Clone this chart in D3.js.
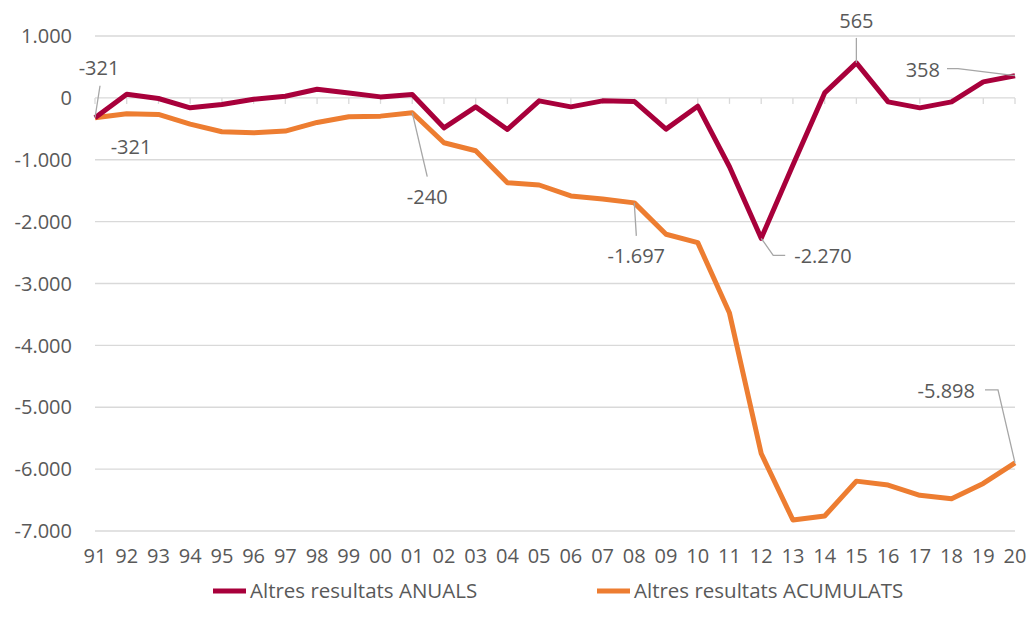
<!DOCTYPE html>
<html>
<head>
<meta charset="utf-8">
<script src="https://cdn.jsdelivr.net/npm/d3@7"></script>
<style>
  body { margin: 0; background: #fff; }
  text { font-family: "Open Sans", sans-serif; fill: #595959; }
</style>
</head>
<body>
<div class="line-chart"></div>
<script>
const years = ['91','92','93','94','95','96','97','98','99','00','01','02','03','04','05',
               '06','07','08','09','10','11','12','13','14','15','16','17','18','19','20']

const anuals = [-321, 60, -10, -161, -107, -21, 27, 140, 80, 16, 55, -484, -145, -510, -48,
                -145, -48, -58, -505, -134, -1113, -2270, -1085, 80, 565, -64, -161, -64, 258, 358]

const acumulats = [-321, -258, -268, -424, -548, -565, -537, -397, -306, -295, -240, -726, -855, -1371, -1408,
                   -1585, -1634, -1697, -2204, -2339, -3478, -5747, -6823, -6758, -6194, -6258, -6424, -6478, -6231, -5898]

const yTicks = [1000, 0, -1000, -2000, -3000, -4000, -5000, -6000, -7000]

const series = [
    {name: 'Altres resultats ANUALS', values: anuals, color: '#A8003B'},
    {name: 'Altres resultats ACUMULATS', values: acumulats, color: '#ED7D31'}
]

const width = 1029
const height = 629
const plot = {left: 95, right: 1015, top: 36, bottom: 531}

const locale = d3.formatLocale({decimal: ',', thousands: '.', grouping: [3], currency: ['', '€'], minus: '-'})
const fmt = locale.format(',d')

const svg = d3.select('.line-chart').append('svg')
    .attr('width', width)
    .attr('height', height)

const x = d3.scalePoint()
    .domain(years)
    .range([plot.left, plot.right])

const y = d3.scaleLinear()
    .domain([-7000, 1000])
    .range([plot.bottom, plot.top])

// gridlines
svg.append('g')
    .selectAll('line')
    .data(yTicks)
    .join('line')
        .attr('x1', plot.left)
        .attr('x2', plot.right)
        .attr('y1', d => y(d))
        .attr('y2', d => y(d))
        .attr('stroke', '#D9D9D9')
        .attr('stroke-width', 1.3)

// y labels
svg.append('g')
    .selectAll('text')
    .data(yTicks)
    .join('text')
        .attr('x', 72)
        .attr('y', d => y(d))
        .attr('dy', '0.36em')
        .attr('text-anchor', 'end')
        .style('font-size', '20px')
        .text(d => fmt(d))

// small tick marks on the zero line
svg.append('g')
    .selectAll('line')
    .data(years)
    .join('line')
        .attr('x1', d => x(d))
        .attr('x2', d => x(d))
        .attr('y1', y(0))
        .attr('y2', y(0) + 6)
        .attr('stroke', '#D9D9D9')
        .attr('stroke-width', 1.3)

// x labels
svg.append('g')
    .selectAll('text')
    .data(years)
    .join('text')
        .attr('x', d => x(d))
        .attr('y', 563)
        .attr('text-anchor', 'middle')
        .style('font-size', '20px')
        .text(d => d)

const line = d3.line()
    .x((d, i) => x(years[i]))
    .y(d => y(d))

svg.append('g')
    .selectAll('path')
    .data(series.slice().reverse())
    .join('path')
        .attr('d', d => line(d.values))
        .attr('fill', 'none')
        .attr('stroke', d => d.color)
        .attr('stroke-width', 5)
        .attr('stroke-linejoin', 'round')

// data labels with leader lines (offsets relative to the point)
const labels = [
    {s: anuals, i: 0, dx: 4, dy: -43, anchor: 'middle', leader: [[0, 0], [5, -32]]},
    {s: acumulats, i: 0, dx: 36, dy: 36, anchor: 'middle', leader: null},
    {s: acumulats, i: 10, dx: 15, dy: 91, anchor: 'middle', leader: [[0, 0], [15, 64]]},
    {s: acumulats, i: 17, dx: 2, dy: 60, anchor: 'middle', leader: [[0, 0], [2, 33]]},
    {s: anuals, i: 21, dx: 33, dy: 25, anchor: 'start', leader: [[0, 0], [12, 17], [24, 17]]},
    {s: anuals, i: 24, dx: 0, dy: -35, anchor: 'middle', leader: [[0, 0], [0, -25]]},
    {s: anuals, i: 29, dx: -75, dy: 1, anchor: 'end', leader: [[0, 0], [-57, -7], [-68, -7]]},
    {s: acumulats, i: 29, dx: -40, dy: -65, anchor: 'end', leader: [[0, 0], [-17, -73], [-30, -73]]}
]

const lab = svg.append('g')
labels.forEach(l => {
    const px = x(years[l.i])
    const py = y(l.s[l.i])
    if (l.leader) {
        lab.append('path')
            .attr('d', d3.line()(l.leader.map(p => [px + p[0], py + p[1]])))
            .attr('fill', 'none')
            .attr('stroke', '#A6A6A6')
            .attr('stroke-width', 1.3)
    }
    lab.append('text')
        .attr('x', px + l.dx)
        .attr('y', py + l.dy)
        .attr('text-anchor', l.anchor)
        .style('font-size', '20px')
        .text(fmt(l.s[l.i]))
})

// legend
const legendX = [213, 597]
const legend = svg.append('g')
    .selectAll('g')
    .data(series)
    .join('g')
        .attr('transform', (d, i) => `translate(${legendX[i]}, 591)`)

legend.append('line')
    .attr('x1', 0)
    .attr('x2', 33)
    .attr('stroke', d => d.color)
    .attr('stroke-width', 5)

legend.append('text')
    .attr('x', 37)
    .attr('dy', '0.36em')
    .style('font-size', '20.5px')
    .text(d => d.name)
</script>
</body>
</html>
